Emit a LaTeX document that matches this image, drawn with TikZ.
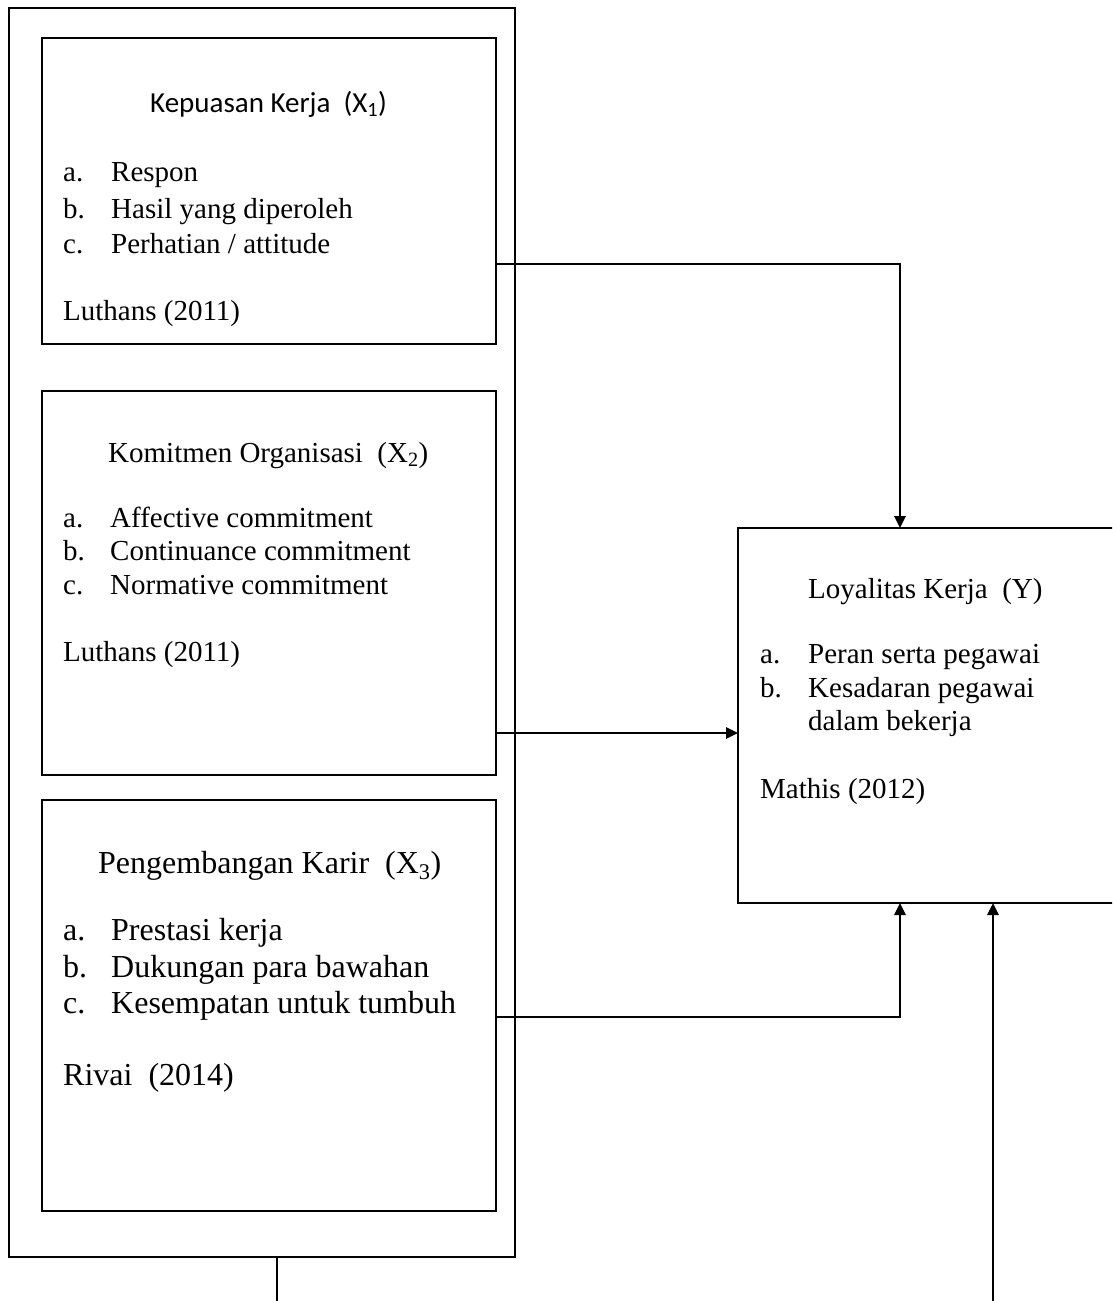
\documentclass[tikz,border=0pt]{standalone}
\usepackage{fontspec}
\setmainfont{Liberation Serif}
\newfontfamily\calfont{Carlito}
\usetikzlibrary{arrows.meta}
\begin{document}
\begin{tikzpicture}[x=1pt,y=-1pt,
  box/.style={draw, line width=2pt, inner sep=0pt, outer sep=0pt, anchor=north west},
  txt/.style={anchor=base west, inner sep=0pt, font=\fontsize{29}{34}\selectfont},
  bigtxt/.style={anchor=base west, inner sep=0pt, font=\fontsize{32}{38}\selectfont},
  conn/.style={line width=2.6pt, -{Triangle[length=12pt,width=11pt]}},
  plain/.style={line width=2.2pt}]
\useasboundingbox (0,0) rectangle (1112,1301);
\begin{scope}
\clip (0,0) rectangle (1112,1301);
% outer frame
\node[box, minimum width=506pt, minimum height=1249pt] (outer) at (9,8) {};
% inner boxes
\node[box, minimum width=454pt, minimum height=306pt] (b1) at (42,38) {};
\node[box, minimum width=454pt, minimum height=384pt] (b2) at (42,391) {};
\node[box, minimum width=454pt, minimum height=411pt] (b3) at (42,800) {};
% Y box
\node[box, minimum width=385pt, minimum height=375pt] (yb) at (738,528) {};

% box 1 text
\node[anchor=base west, inner sep=0pt, font=\calfont\fontsize{29}{34}\selectfont] (t1) at (150,112) {Kepuasan Kerja\ \ (X\textsubscript{1})};
\node[txt] (t1a) at (63,181) {a.};
\node[txt] (t1at) at (111,181) {Respon};
\node[txt] (t1b) at (63,218) {b.};
\node[txt] (t1bt) at (111,218) {Hasil yang diperoleh};
\node[txt] (t1c) at (63,253) {c.};
\node[txt] (t1ct) at (111,253) {Perhatian / attitude};
\node[txt] (t1r) at (63,320) {Luthans (2011)};

% box 2 text
\node[txt] (t2) at (108,462) {Komitmen Organisasi\ \ (X\textsubscript{2})};
\node[txt] (t2a) at (63,527) {a.};
\node[txt] (t2at) at (110,527) {Affective commitment};
\node[txt] (t2b) at (63,560) {b.};
\node[txt] (t2bt) at (110,560) {Continuance commitment};
\node[txt] (t2c) at (63,594) {c.};
\node[txt] (t2ct) at (110,594) {Normative commitment};
\node[txt] (t2r) at (63,661) {Luthans (2011)};

% box 3 text
\node[bigtxt] (t3) at (98,873) {Pengembangan Karir\ \ (X\textsubscript{3})};
\node[bigtxt] (t3a) at (63,940) {a.};
\node[bigtxt] (t3at) at (111,940) {Prestasi kerja};
\node[bigtxt] (t3b) at (63,977) {b.};
\node[bigtxt] (t3bt) at (111,977) {Dukungan para bawahan};
\node[bigtxt] (t3c) at (63,1013) {c.};
\node[bigtxt] (t3ct) at (111,1013) {Kesempatan untuk tumbuh};
\node[bigtxt] (t3r) at (63,1085) {Rivai\ \ (2014)};

% Y box text
\node[txt] (ty) at (808,598) {Loyalitas Kerja\ \ (Y)};
\node[txt] (tya) at (760,663) {a.};
\node[txt] (tyat) at (808,663) {Peran serta pegawai};
\node[txt] (tyb) at (760,697) {b.};
\node[txt] (tybt) at (808,697) {Kesadaran pegawai};
\node[txt] (tyb2) at (808,730) {dalam bekerja};
\node[txt] (tyr) at (760,798) {Mathis (2012)};

% connector coordinates
\coordinate (s1) at (b1.east |- 0,264);
\coordinate (e1) at (900,0 |- yb.north);
\coordinate (s2) at (b2.east |- 0,733);
\coordinate (e2) at (yb.west |- s2);
\coordinate (s3) at (b3.east |- 0,1017);
\coordinate (e3) at (900,0 |- yb.south);
\coordinate (e4) at (993,0 |- yb.south);
\coordinate (f4) at (993,1305);
\coordinate (o1) at (277,0 |- outer.south);
\coordinate (f1) at (277,1305);

\draw[conn] (s1) -| (e1);
\draw[conn] (s2) -- (e2);
\draw[conn] (s3) -| (e3);
\draw[conn] (f4) -- (e4);
\draw[plain] (o1) -- (f1);
\end{scope}
\end{tikzpicture}
\end{document}
